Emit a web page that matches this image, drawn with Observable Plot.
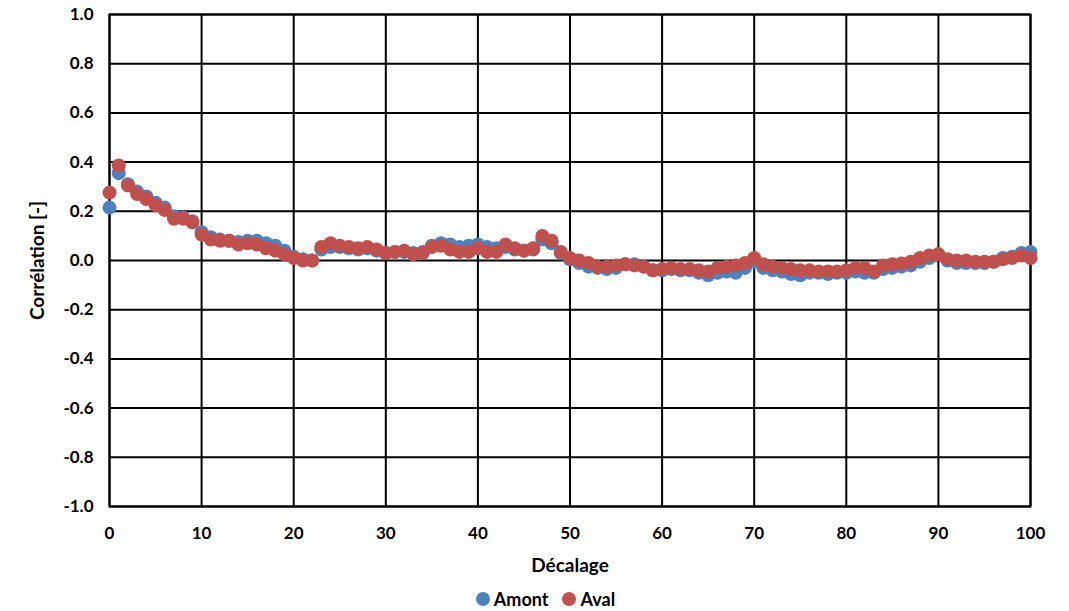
<!DOCTYPE html>
<html>
<head>
<meta charset="utf-8">
<script src="https://cdn.jsdelivr.net/npm/d3@7"></script>
<script src="https://cdn.jsdelivr.net/npm/@observablehq/plot@0.6"></script>
<style>
  html, body { margin: 0; padding: 0; background: #fff; }
  body { width: 1069px; height: 611px; overflow: hidden; font-family: Lato, "Open Sans", sans-serif; }
  #legend { display: flex; justify-content: center; gap: 14px; font-weight: bold; font-size: 18px; color: #000; margin-top: 4px; padding-left: 22px; }
  #legend span.item { display: inline-flex; align-items: center; gap: 4px; }
  #legend span.sw { width: 14px; height: 14px; border-radius: 50%; display: inline-block; }
</style>
</head>
<body>
<div id="chart"></div>
<div id="legend"></div>
<script>
const lags = d3.range(0, 101);
const amont = [0.215,0.355,0.31,0.28,0.26,0.235,0.215,0.18,0.175,0.16,
  0.115,0.095,0.085,0.08,0.075,0.08,0.08,0.07,0.06,0.04,
  0.015,0.005,0.0,0.045,0.055,0.055,0.05,0.045,0.05,0.04,
  0.03,0.035,0.035,0.03,0.035,0.06,0.07,0.065,0.055,0.06,
  0.065,0.055,0.05,0.055,0.045,0.04,0.045,0.085,0.07,0.03,
  0.005,-0.01,-0.025,-0.03,-0.035,-0.03,-0.015,-0.015,-0.025,-0.04,
  -0.04,-0.035,-0.04,-0.04,-0.05,-0.06,-0.05,-0.045,-0.05,-0.03,
  -0.005,-0.03,-0.04,-0.045,-0.055,-0.06,-0.05,-0.05,-0.055,-0.05,
  -0.05,-0.045,-0.05,-0.05,-0.035,-0.03,-0.025,-0.02,-0.005,0.01,
  0.025,0.0,-0.01,-0.01,-0.01,-0.01,-0.005,0.01,0.015,0.03,0.035];
const aval = [0.276,0.386,0.305,0.27,0.25,0.225,0.205,0.17,0.17,0.155,
  0.105,0.085,0.08,0.08,0.065,0.07,0.065,0.05,0.04,0.025,
  0.01,0.0,0.0,0.055,0.07,0.06,0.055,0.05,0.055,0.045,
  0.03,0.035,0.04,0.025,0.03,0.055,0.06,0.045,0.035,0.035,
  0.05,0.035,0.035,0.065,0.05,0.04,0.05,0.10,0.08,0.035,
  0.01,0.0,-0.01,-0.025,-0.025,-0.02,-0.015,-0.02,-0.025,-0.04,
  -0.035,-0.03,-0.035,-0.035,-0.04,-0.045,-0.03,-0.025,-0.02,-0.01,
  0.01,-0.015,-0.025,-0.03,-0.035,-0.04,-0.04,-0.045,-0.045,-0.045,
  -0.04,-0.03,-0.03,-0.045,-0.02,-0.015,-0.012,-0.005,0.01,0.02,
  0.025,0.005,0.0,0.0,-0.005,-0.005,-0.005,0.005,0.01,0.02,0.01];
const xTicks = [0,10,20,30,40,50,60,70,80,90,100];
const yTicks = [-1.0,-0.8,-0.6,-0.4,-0.2,0.0,0.2,0.4,0.6,0.8,1.0];
const seriesNames = ["Amont", "Aval"];
const seriesColors = ["#4F81BD", "#C0504D"];

const rows = [];
seriesNames.forEach((s, i) => {
  const vals = i === 0 ? amont : aval;
  lags.forEach((l, j) => rows.push({serie: s, lag: l, corr: vals[j]}));
});

const chart = Plot.plot({
  width: 1069,
  height: 584,
  marginLeft: 109,
  marginRight: 39,
  marginTop: 14,
  marginBottom: 78,
  style: {fontFamily: "Lato, 'Open Sans', sans-serif", fontSize: "17px", fontWeight: "bold", color: "#000", background: "#fff"},
  x: {domain: [0, 100], ticks: xTicks, tickSize: 0, tickPadding: 20, label: null},
  y: {domain: [-1, 1], ticks: yTicks, tickSize: 0, tickPadding: 16, label: null},
  color: {domain: seriesNames, range: seriesColors},
  marks: [
    Plot.gridX(xTicks, {stroke: "#000", strokeOpacity: 1, strokeWidth: 2}),
    Plot.gridY(yTicks, {stroke: "#000", strokeOpacity: 1, strokeWidth: 2}),
    Plot.frame({stroke: "#000", strokeWidth: 2}),
    Plot.axisX({ticks: xTicks, tickSize: 0, tickPadding: 20, label: null, fontSize: 17}),
    Plot.axisY({ticks: yTicks, tickSize: 0, tickPadding: 16, label: null, fontSize: 17, tickFormat: d => d.toFixed(1)}),
    Plot.dot(rows, {x: "lag", y: "corr", fill: "serie", r: 7}),
    Plot.text(["Décalage"], {frameAnchor: "bottom", dy: 65, text: d => d, fontSize: 19, fontWeight: "bold"}),
    Plot.text(["Corrélation [-]"], {frameAnchor: "left", textAnchor: "middle", dx: -72, rotate: -90, text: d => d, fontSize: 19, fontWeight: "bold"})
  ]
});
document.getElementById("chart").appendChild(chart);

const legend = document.getElementById("legend");
seriesNames.forEach((s, i) => {
  const item = document.createElement("span");
  item.className = "item";
  const sw = document.createElement("span");
  sw.className = "sw";
  sw.style.background = seriesColors[i];
  item.appendChild(sw);
  item.appendChild(document.createTextNode(s));
  legend.appendChild(item);
});
</script>
</body>
</html>
